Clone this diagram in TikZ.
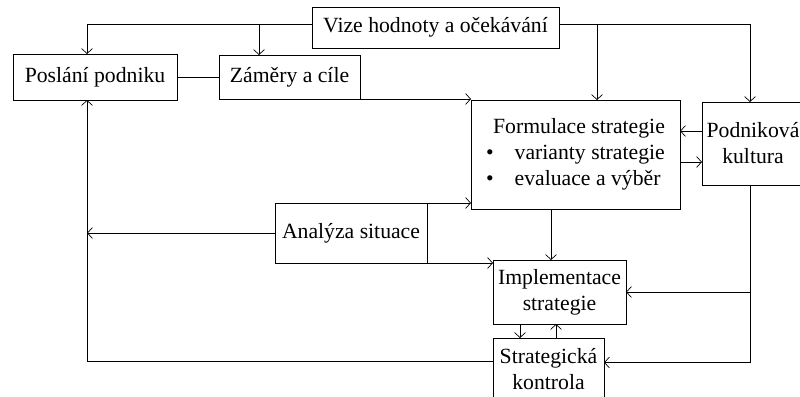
\documentclass[tikz,border=0pt]{standalone}
\usepackage{fontspec}
\setmainfont{Liberation Serif}
\usetikzlibrary{arrows.meta}
\begin{document}
\begin{tikzpicture}[x=1pt,y=-1pt,
    box/.style={draw,line width=0.9pt,inner sep=0pt,outer sep=0pt,align=center,
      font=\fontsize{21.7}{26}\selectfont},
    arr/.style={line width=0.9pt,-{Straight Barb[length=5pt,width=11pt,line width=0.7pt]}},
    con/.style={line width=0.9pt}]
  \useasboundingbox (0,0) rectangle (800,396);
  \clip (0,0) rectangle (800,396);
  \fill[white] (0,0) rectangle (800,396);
  \node[box,minimum width=247pt,minimum height=41pt] (vize) at (435.5,27.5) {Vize hodnoty a očekávání};
  \node[box,minimum width=164pt,minimum height=46pt] (poslani) at (95,77) {Poslání podniku};
  \node[box,minimum width=141pt,minimum height=44pt] (zamery) at (289.5,77) {Záměry a cíle};
  \node[box,minimum width=209pt,minimum height=109pt,align=left] (formulace) at (575.5,154.5)
    {\hspace*{7pt}Formulace strategie\\\textbullet\hspace{21pt}varianty strategie\\\textbullet\hspace{21pt}evaluace a výběr};
  \node[box,minimum width=102pt,minimum height=83pt] (kultura) at (753,143.5) {Podniková\\kultura};
  \node[box,minimum width=152pt,minimum height=60pt] (analyza) at (351,233) {Analýza situace};
  \node[box,minimum width=133pt,minimum height=64pt] (implementace) at (559.5,292) {Implementace\\strategie};
  \node[box,minimum width=111pt,minimum height=63pt] (kontrola) at (548.5,369.5) {Strategická\\kontrola};
  \coordinate (vl) at ([yshift=3.5pt]vize.west);
  \coordinate (vr) at ([yshift=3pt]vize.east);
  \coordinate (pin) at ([xshift=-8pt]poslani.north);
  \coordinate (pb) at ([xshift=-8pt]poslani.south);
  \coordinate (zin) at ([xshift=-30.5pt]zamery.north);
  \coordinate (fin) at ([xshift=21.5pt]formulace.north);
  \coordinate (kin) at ([xshift=-3pt]kultura.north);
  \coordinate (ks) at ([xshift=-3pt]kultura.south);
  \coordinate (f1) at ([yshift=23.5pt]formulace.east);
  \coordinate (f2) at ([yshift=-7.5pt]formulace.east);
  \coordinate (fs) at ([xshift=-24.5pt]formulace.south);
  \coordinate (ke) at ([yshift=7pt]kontrola.east);
  \coordinate (kw) at ([yshift=8.5pt]kontrola.west);
  \coordinate (id) at ([xshift=-39.5pt]implementace.south);
  \coordinate (ku) at ([xshift=7.5pt]kontrola.north);
  \draw[arr] (vl) -| (pin);
  \draw[arr] (zin |- vl) -- (zin);
  \draw[arr] (vr) -| (kin);
  \draw[arr] (fin |- vr) -- (fin);
  \draw[con] (poslani) -- (zamery);
  \draw[arr] (zamery.south east) -- (zamery.south east -| formulace.west);
  \draw[arr] (f1 -| kultura.west) -- (f1);
  \draw[arr] (f2) -- (f2 -| kultura.west);
  \draw[arr] (ks) |- (implementace.east);
  \draw[arr] (ks) |- (ke);
  \draw[arr] (fs) -- (fs |- implementace.north);
  \draw[arr] (analyza.west) -- (analyza.west -| pb);
  \draw[arr] (kw) -| (pb);
  \draw[arr] (analyza.north east) -- (analyza.north east -| formulace.west);
  \draw[arr] (analyza.south east) -- (analyza.south east -| implementace.west);
  \draw[arr] (id) -- (id |- kontrola.north);
  \draw[arr] (ku) -- (ku |- implementace.south);
\end{tikzpicture}
\end{document}
